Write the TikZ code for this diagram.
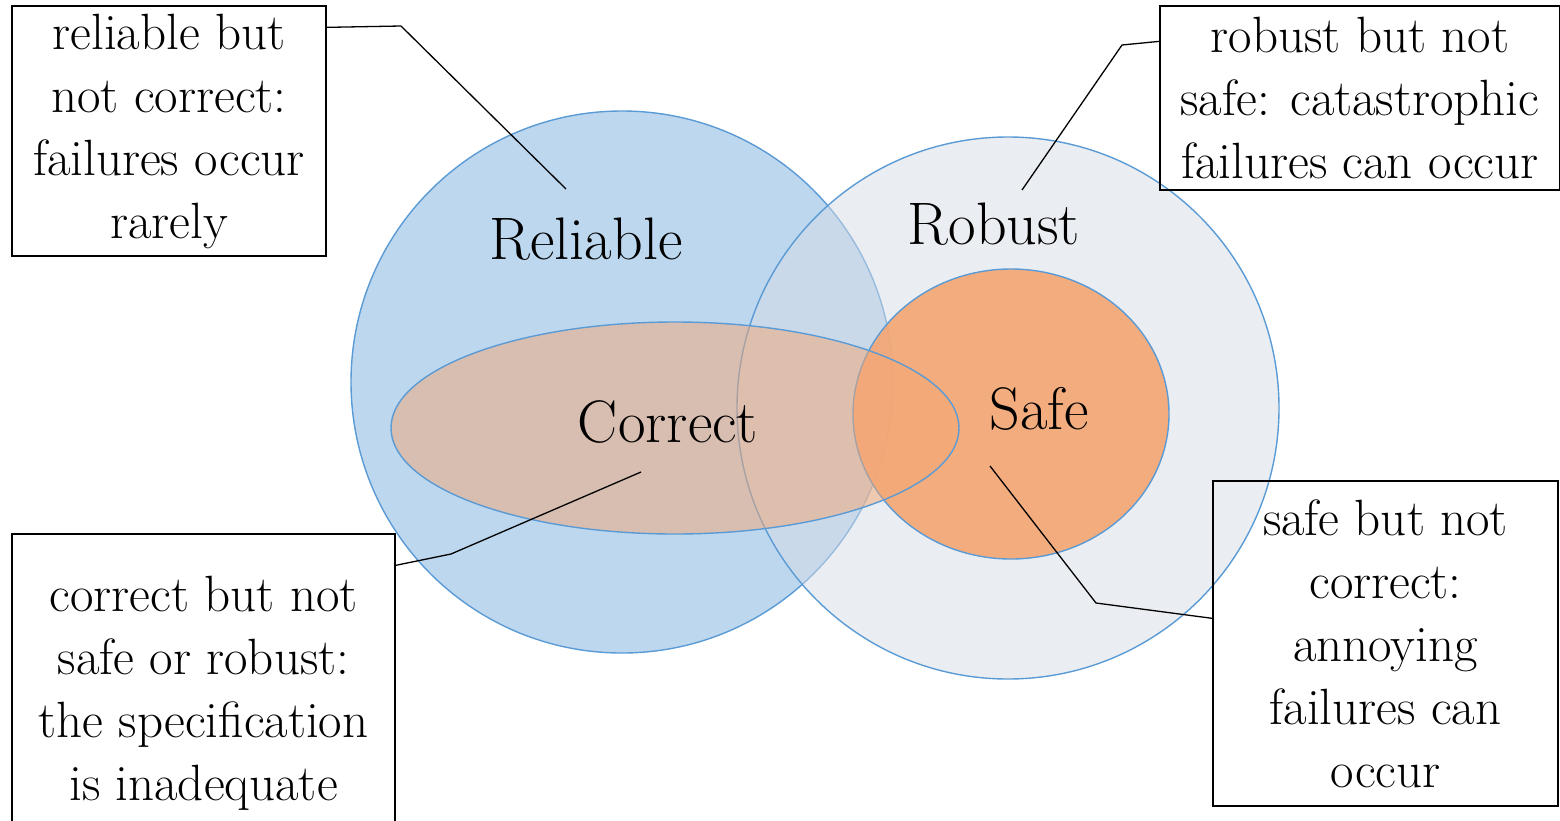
\documentclass[tikz,border=0pt]{standalone}
\usetikzlibrary{calc}
\definecolor{relfill}{HTML}{BDD7EE}
\definecolor{robfill}{HTML}{D6DCE5}
\definecolor{safefill}{HTML}{F4A774}
\definecolor{setedge}{HTML}{5B9BD5}
\tikzset{
  setline/.style={draw=setedge, line width=1.4pt},
  setlabel/.style={font=\fontsize{60}{66}\selectfont, anchor=base, inner sep=0pt},
  notebox/.style={draw=black, line width=1.3pt, align=center, inner sep=0pt,
    font=\fontsize{51}{63}\selectfont},
  leader/.style={draw=black, line width=1.3pt}
}
\begin{document}
\begin{tikzpicture}[x=1pt,y=-1pt]
\useasboundingbox (0,0) rectangle (1560,820);
\clip (0,0) rectangle (1560,820);

% the four sets
\draw[setline, fill=relfill] (622,382) circle[radius=271];
\draw[setline, fill=robfill, fill opacity=0.5] (1008,408) circle[radius=271];
\draw[setline, fill=safefill, fill opacity=0.92] (1011,414) ellipse[x radius=158, y radius=145];
\draw[setline, fill=safefill, fill opacity=0.5] (675,428) ellipse[x radius=284, y radius=106];

% set names
\node[setlabel] (rel) at (586,259) {Reliable};
\node[setlabel] (rob) at (994,244) {Robust};
\node[setlabel] (cor) at (668,442) {Correct};
\node[setlabel] (saf) at (1039,429) {Safe};

% explanatory boxes
\node[notebox, minimum width=314pt, minimum height=250pt] (b1) at (169,131)
  {reliable but\\not correct:\\failures occur\\rarely};
\node[notebox, minimum width=400pt, minimum height=184pt] (b2) at (1360,98)
  {robust but not\\safe: catastrophic\\failures can occur};
\node[notebox, minimum width=383pt, minimum height=318pt] (b3) at (203.5,693)
  {correct but not\\safe or robust:\\the specification\\is inadequate};
\node[notebox, minimum width=345pt, minimum height=325pt] (b4) at (1385.5,643.5)
  {safe but not\\correct:\\annoying\\failures can\\occur};

% leader lines
\coordinate (k1) at (401,26);  \coordinate (e1) at (566,189);
\coordinate (k2) at (1122,45); \coordinate (e2) at (1022,190);
\coordinate (k3) at (451,554); \coordinate (e3) at (641,472);
\coordinate (k4) at (1096,603);\coordinate (e4) at (990,466);
\draw[leader] ([yshift=-22pt]b1.north east) -- (k1) -- (e1);
\draw[leader] ([yshift=-36pt]b2.north west) -- (k2) -- (e2);
\draw[leader] ([yshift=-32pt]b3.north east) -- (k3) -- (e3);
\draw[leader] ([yshift=-138pt]b4.north west) -- (k4) -- (e4);
\end{tikzpicture}
\end{document}
